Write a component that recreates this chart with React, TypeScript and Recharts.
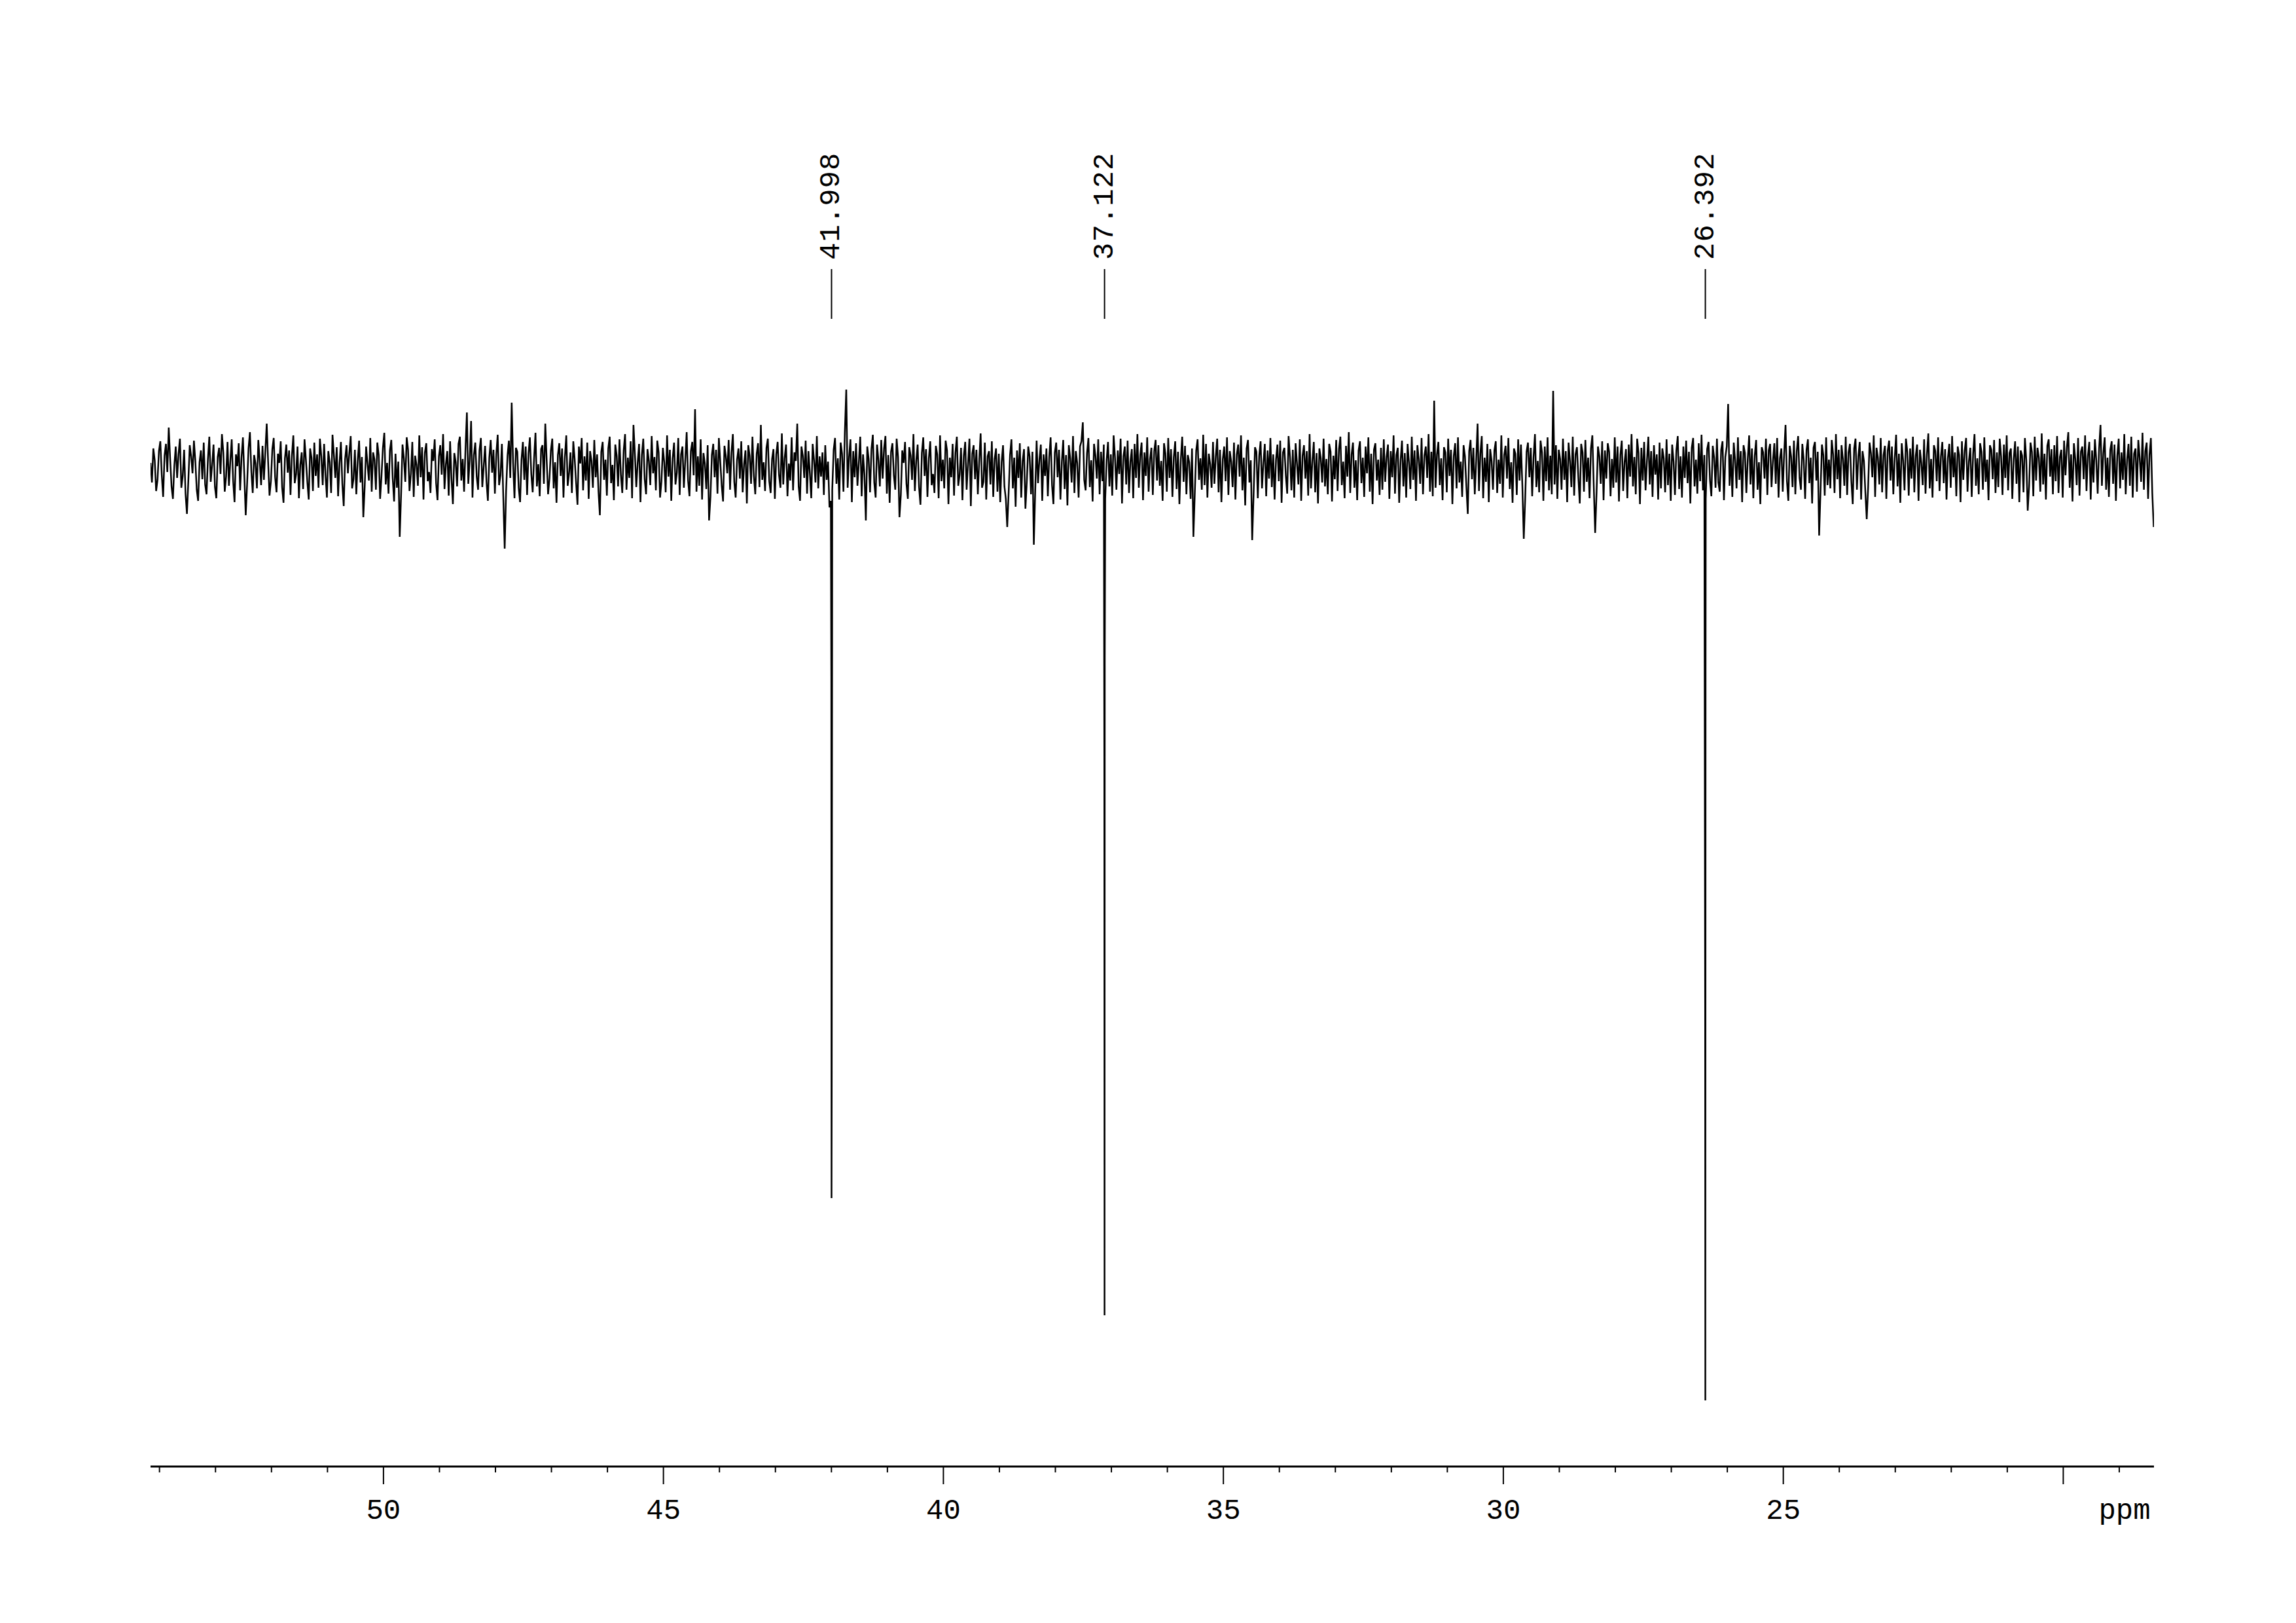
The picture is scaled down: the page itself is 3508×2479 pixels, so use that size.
import React from 'react';
import { LineChart, Line, XAxis, YAxis, ReferenceLine } from 'recharts';

// spectrum window (ppm); the baseline trace is sampled evenly across it
const ppmLeft = 54.16;
const ppmRight = 18.38;
const ppmLast = 18.385;

// baseline noise, one row = 1 ppm (40 samples)
const noise: number[] = [
  8, -22, 30, 12, -35, -18, 26, 41, -10, -44, 19, 37, -6, 62, 15, -28, -47, 4, 33, -15, 22, 45, -30, -12, 28, -39, -70, -20, 35, 18, -8, 42, 11, -33, -50, 9, 27, -17, 39, -25,
  -40, 14, 48, -21, 5, 36, -29, -46, 17, 31, -9, 52, 24, -36, -13, 40, -27, 10, 44, -19, -52, 21, 3, 38, -34, 16, 47, -11, -72, -24, 30, 55, -5, -38, 20, 7, -31, 43, 12, -26,
  34, -18, 25, 68, 10, -42, -20, 29, 46, -14, -37, 22, 8, 41, -29, -53, 15, 36, -7, 27, -41, 19, 50, -23, -9, 33, -46, 5, 24, -32, 44, 13, -21, -48, 30, 16, -35, 39, -12, 21,
  -30, 45, 18, -26, 37, -11, -45, 26, 9, -38, 51, 20, -15, 32, -43, 7, 40, -24, -58, 14, 35, -8, 23, 49, -31, -17, 28, -40, 11, 42, -22, 17, -75, -28, 33, 6, -19, 46, -36, 24,
  13, -33, 39, 20, -47, -12, 31, 54, -25, 8, -39, 27, 43, -16, -51, 22, -30, 10, -105, -40, 36, 15, -21, 47, 28, -35, -9, 40, -44, 19, 5, -27, 50, -14, 32, -48, 24, 38, -20, -6,
  -38, 29, 11, 44, -23, -49, 18, 35, -10, 52, -32, 6, 26, -42, 41, -17, -55, 23, 9, -28, 37, 48, -19, 14, -36, 30, 85, -24, 12, 72, -45, 20, 39, -13, -33, 27, 46, -29, 3, 34,
  -21, -50, 16, 43, -7, 28, -39, 21, 51, -26, -11, 37, -44, -123, -35, 19, 42, -15, 100, 8, -46, 31, 25, -30, -52, 13, 40, -18, 33, -41, 22, 47, -9, -37, 15, 54, -28, 6, -43, 29,
  35, -24, 68, 12, -40, -16, 27, 45, -31, 9, -53, 20, 38, -12, 30, -45, 17, 50, -27, -8, 24, -38, 41, 14, -22, -56, 33, 7, 46, -34, 18, -19, 39, -47, 26, 11, -30, 43, -14, 21,
  -36, -72, 25, 40, -18, 13, -42, 30, 48, -23, 5, -49, 36, 19, -28, 44, -10, -38, 27, 52, -33, 16, -15, 41, -46, 66, 22, -29, 8, 37, -52, 20, 45, -17, -40, 29, 11, -26, 49, -8,
  17, -34, 42, 24, -45, -20, 31, 9, -37, 50, -13, 28, -50, 15, 39, -25, -7, 46, -41, 21, 33, -30, 12, 55, -19, -43, 26, 40, -11, 90, -36, 18, -27, 44, -48, 23, 7, -32, 35, -80,
  -44, 20, 37, -14, 28, -39, 46, 10, -26, -51, 34, 18, -8, 43, -33, 24, 52, -21, -45, 13, 30, -16, 41, -37, 6, 27, -54, 35, 19, -24, 48, -12, -40, 22, 38, -29, 66, -18, 9, -35,
  31, 45, -20, -38, 14, 29, -47, 21, 40, -11, -30, 53, -25, 16, 36, -43, 7, -19, 47, -34, 24, 11, 68, -28, -50, 33, 19, -15, 42, -39, 26, -8, -46, 37, 12, -22, 49, -31, 18, -13,
  24, -41, 35, -18, 10, -60, -50, -33, 28, 46, -24, 15, -48, 39, 22, -36, 55, 120, -30, 17, 44, -52, 26, -14, 38, -27, 9, 48, -43, 21, -10, -80, 33, 14, -37, 29, 51, -22, -45, 36,
  12, -28, 43, -16, 30, 49, -39, 20, -53, 25, 38, -11, -33, 45, 17, -75, -41, 27, 8, 40, -24, -47, 32, 19, -18, 52, -35, 11, 36, -29, -56, 23, 47, -12, 29, -44, 15, 41, -26, -9,
  -38, 34, 21, -46, 50, -20, 13, -31, 42, 27, -55, 16, -14, 37, -42, 24, 48, -27, -10, 31, -49, 19, 40, -33, 7, 45, -58, 22, 35, -17, 28, -40, 12, 53, -30, -21, 39, -48, 18, 26,
  -25, 41, -44, 14, 30, -36, 22, -52, 9, 35, -28, -47, -90, -38, 20, 44, -31, 16, -59, 27, -15, 38, -45, 11, 29, -62, -20, 33, 18, -40, 25, -117, -35, 42, -23, 13, 36, -50, 21, -12,
  30, -43, 17, 47, -26, -55, 24, 39, -14, 28, -48, 10, 43, -32, 20, -57, 35, 15, -22, 49, -38, 26, 8, -45, 33, 41, 70, -18, -34, 23, 46, -29, 12, -51, 37, 19, -16, 44, -40, 25,
  -20, 36, -47, 12, 40, -28, 21, -42, 50, 16, -33, 27, -9, 45, -54, 18, 33, -25, 42, -38, 10, 29, -46, 37, -15, 52, -30, 20, 39, -49, 24, -12, 47, -36, 14, 31, -41, 26, 43, -19,
  35, -27, 11, -50, 38, 22, -36, 46, -15, 29, -44, 17, 41, -32, 25, -55, 13, 48, -21, 34, -40, 20, 9, -47, 30, -105, -38, 27, 44, -18, 15, -33, 51, -26, 37, -45, 22, 6, -30, 40,
  -24, 18, 45, -37, 28, -52, 14, 33, -20, 47, -41, 26, 10, -29, 39, -48, 21, 36, -13, 50, -34, 16, -57, 30, 43, -22, 12, -110, -40, 32, 25, -46, 19, 41, -31, 8, 37, -43, 27, -16,
  46, -29, 21, -48, 13, 36, -20, 42, -53, 24, 31, -11, -39, 49, 17, -34, 28, -45, 38, 7, -25, 44, -50, 19, 35, -16, 26, -42, 52, -31, 11, 40, -37, 23, -54, 30, 15, -22, 45, -28,
  14, -40, 37, 25, -51, 19, -17, 43, -35, 29, 48, -26, 10, -46, 34, -13, 55, -38, 21, 39, -30, 12, -49, 27, 41, -23, 16, -44, 33, -8, 47, -36, 22, -55, 28, 38, -19, 13, -41, 31,
  -33, 44, -21, 17, 36, -47, 26, -14, 50, -39, 20, 31, -53, 12, 42, -28, 23, -45, 37, 9, -32, 48, -18, 27, -50, 35, 14, -24, 46, -40, 19, 33, -15, 52, -36, 25, -43, 103, -30, 21,
  40, -26, 15, -49, 32, 24, -37, 45, -12, 28, -55, 19, 38, -31, 47, -22, 10, -44, 35, 18, -28, -70, 26, 43, -17, 31, -40, 12, 68, -35, 22, 49, -46, 16, -21, 37, -52, 29, 11, -33,
  27, 41, -38, 13, -24, 50, -45, 20, 34, -16, 46, -32, 9, -53, 30, 22, -41, 44, -19, 36, -27, -108, -48, 25, 39, -14, 31, -43, 17, 52, -29, 11, -37, 42, 24, -50, 33, -20, 47, -34,
  19, -40, 118, -25, 35, -47, 28, 14, -33, 45, -18, 26, -52, 39, 11, -29, 48, -42, 21, 32, -15, -54, 37, 24, -36, 43, -21, 16, -46, 30, 50, -27, -99, -38, 33, 18, -24, 41, -49, 27,
  -16, 38, 25, -43, 14, -30, 47, -22, 33, -51, 20, 42, -35, 9, 29, -46, 36, -13, 52, -28, 17, -40, 45, 23, -55, 31, -19, 40, -34, 12, 48, -25, 26, -44, 35, -10, 21, -48, 39, -31,
  30, 15, -37, 44, -26, 22, -50, 36, 10, -41, 27, 49, -32, 18, -45, 33, -15, 42, -23, 25, -54, 31, 46, -28, 13, -39, 38, -20, 51, -34, 20, -47, 29, 40, -18, -43, 34, 16, -30, 45,
  -22, -36, 28, 41, -49, 17, 33, 98, -27, 21, -44, 39, 12, -31, 47, -18, 26, -52, 35, 23, -38, 14, 50, -25, 30, -46, 19, 43, -33, 9, -55, 32, 24, -16, 45, -41, 27, 37, -29, 11,
  38, -24, 46, -45, 15, 30, -36, 22, 66, -20, -50, 34, 18, -29, 42, -40, 26, 49, -15, -33, 37, 12, -47, 28, 44, -23, 16, -54, 31, 40, -19, 25, -103, -35, 36, 20, -42, 47, -26, 13,
  -31, 43, 21, -38, 52, -17, 28, -46, 35, 14, -27, 48, -41, 24, 37, -20, -55, 30, 45, -33, 18, 40, -48, 26, 11, -36, -78, -30, 39, 23, -14, 50, -44, 31, 16, -25, 46, -37, 20, 34,
  -47, 27, 42, -19, 33, -40, 15, 51, -28, 22, -53, 38, 12, -34, 45, 25, -42, 30, -16, 48, -37, 19, 36, -50, 28, 8, -26, 44, -39, 21, 53, -31, 14, -45, 35, 26, -20, 47, -35, 18,
  40, -23, 29, -48, 16, 37, -30, 49, -14, 24, -43, 33, 20, -52, 41, -18, 27, 46, -36, 11, 31, -44, 22, 52, -27, 15, -40, 38, 25, -33, 47, -21, 13, -49, 35, 28, -17, 43, -38, 24,
  -29, 45, 18, -41, 36, -15, 50, -34, 23, 30, -47, 14, 41, -24, 33, -52, 27, 19, -37, 46, 12, -65, -28, 39, 25, -43, 48, -19, 31, 16, -36, 53, -25, 22, -48, 34, 44, -13, 29, -40,
  35, -20, 49, -38, 17, 28, -45, 42, -11, 32, 55, -30, 21, -51, 38, 14, -26, 46, -42, 25, 33, -17, 50, -35, 19, 40, -48, 27, -22, 44, 12, -39, 30, 66, -27, 23, 47, -33, 16, -44,
  28, 41, -24, 36, -50, 19, 45, -31, 24, -18, 52, -40, 13, 37, -27, 48, -45, 22, 30, -36, 43, 15, -21, 54, -33, 26, 39, -47, 20, 46, -38, -90,
];

// negative DEPT peaks: position, minimum, and the two neighbouring points
const peakPpm = [41.998, 37.122, 26.392];
const peakLabels = ['41.998', '37.122', '26.392'];
const peakMin = [-1115, -1294, -1424];
const peakLeft = [-318, -440, -817];
const peakRight = [-922, -290, -314];

const axisTicks = [54, 53, 52, 51, 50, 49, 48, 47, 46, 45, 44, 43, 42, 41, 40, 39, 38, 37, 36,
  35, 34, 33, 32, 31, 30, 29, 28, 27, 26, 25, 24, 23, 22, 21, 20, 19];
const labelledTicks = [50, 45, 40, 35, 30, 25];

const ppmStep = (ppmLeft - ppmLast) / (noise.length - 1);

const spectrum = [
  ...noise.map((v, i) => ({ ppm: ppmLeft - i * ppmStep, y: v })),
  ...peakPpm.flatMap((p, k) => [
    { ppm: p + 0.004, y: peakLeft[k] },
    { ppm: p, y: peakMin[k] },
    { ppm: p - 0.004, y: peakRight[k] },
  ]),
].sort((a, b) => b.ppm - a.ppm);

const FONT = '"Liberation Mono", "Courier New", monospace';

const AxisTick = (props: any) => {
  const { x, y, payload } = props;
  const v = payload.value;
  const major = v % 5 === 0;
  return (
    <g>
      <line x1={x} x2={x} y1={y} y2={y + (major ? 27 : 9)} stroke="#000" strokeWidth={2} />
      {labelledTicks.includes(v) && (
        <text x={x} y={y + 80} textAnchor="middle" fontFamily={FONT} fontSize={44} fill="#000">
          {v}
        </text>
      )}
    </g>
  );
};

const PpmLabel = (props: any) => {
  const { x, y, width } = props.viewBox;
  return (
    <text x={x + width - 45} y={y + 80} textAnchor="middle" fontFamily={FONT} fontSize={44} fill="#000">
      ppm
    </text>
  );
};

const peakLabel = (text: string) => (props: any) => {
  const { x, y } = props.viewBox;
  const ty = y - 14;
  return (
    <text
      x={x}
      y={ty}
      transform={`rotate(-90, ${x}, ${ty})`}
      textAnchor="start"
      dominantBaseline="central"
      fontFamily={FONT}
      fontSize={44}
      letterSpacing={1}
      fill="#000"
    >
      {text}
    </text>
  );
};

export default function App() {
  return (
    <div style={{ width: 3492, height: 2463, background: '#fff' }}>
      <LineChart
        width={3492}
        height={2463}
        data={spectrum}
        margin={{ top: 172, right: 209, left: 222, bottom: 111 }}
      >
        <XAxis
          dataKey="ppm"
          type="number"
          domain={[ppmRight, ppmLeft]}
          reversed
          allowDataOverflow
          ticks={axisTicks}
          interval={0}
          tickSize={0}
          tickMargin={0}
          tickLine={false}
          tick={AxisTick}
          axisLine={{ stroke: '#000', strokeWidth: 3 }}
          height={120}
          label={{ content: PpmLabel }}
        />
        <YAxis type="number" domain={[-1525, 535]} hide allowDataOverflow />
        {peakPpm.map((p, k) => (
          <ReferenceLine
            key={p}
            segment={[{ x: p, y: 228 }, { x: p, y: 304 }]}
            stroke="#000"
            strokeWidth={2}
            label={peakLabel(peakLabels[k])}
          />
        ))}
        <Line
          type="linear"
          dataKey="y"
          stroke="#000"
          strokeWidth={2.5}
          dot={false}
          isAnimationActive={false}
        />
      </LineChart>
    </div>
  );
}
